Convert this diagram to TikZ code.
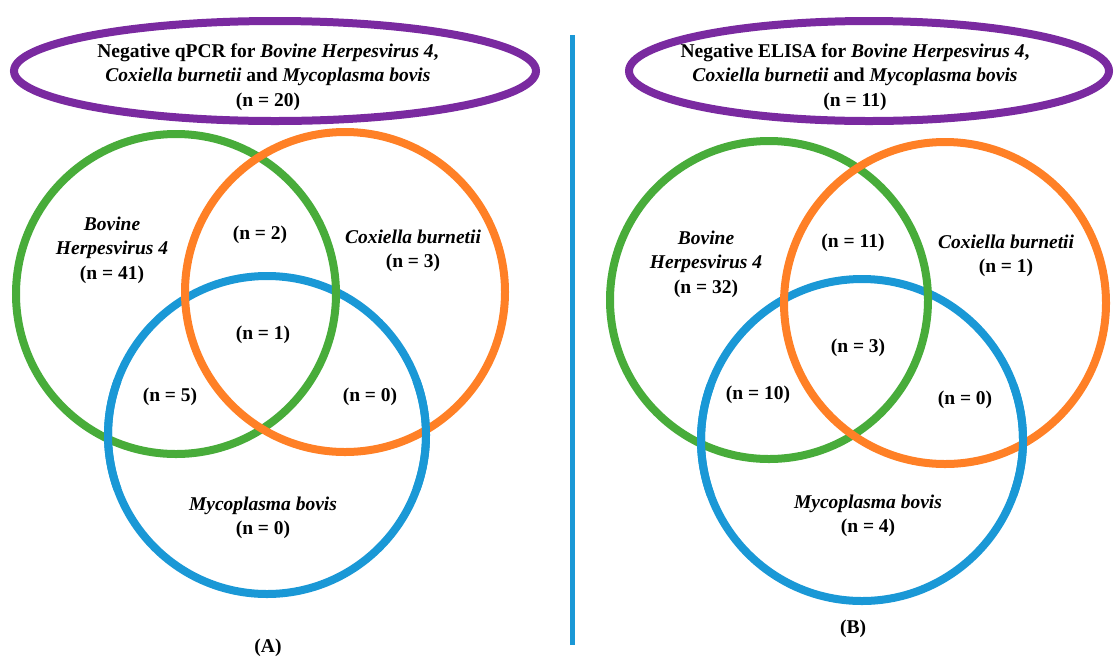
\documentclass[tikz,border=0pt]{standalone}
\usepackage{fontspec}
\setmainfont{Liberation Serif}
\usetikzlibrary{shapes.geometric}
\definecolor{vgreen}{RGB}{72,172,58}
\definecolor{vorange}{RGB}{255,128,38}
\definecolor{vblue}{RGB}{26,152,214}
\definecolor{vpurple}{RGB}{122,42,160}
\tikzset{
  ring/.style={circle, draw, line width=8pt, minimum size=#1, inner sep=0pt},
  oval/.style={ellipse, draw=vpurple, line width=8pt, inner sep=0pt},
  lbl/.style={font=\fontsize{19.5}{24.5}\selectfont\bfseries, align=center, inner sep=0pt},
  overarc/.style={vblue, line width=8pt},
}
\begin{document}
\begin{tikzpicture}[x=1pt,y=-1pt]
\useasboundingbox (0,0) rectangle (1115,657);
% ---------- Panel A ----------
\node[oval, minimum width=522pt, minimum height=100pt] (ovA) at (275,71) {};
\node[ring=318pt, draw=vblue] (bA) at (267,435) {};
\node[ring=320pt, draw=vgreen] (gA) at (176,294) {};
\node[ring=320pt, draw=vorange] (oA) at (345,292) {};
\draw[overarc] ([shift={(160:159pt)}]bA.center) arc[start angle=160, end angle=200, radius=159pt];
\draw[overarc] ([shift={(-20:159pt)}]bA.center) arc[start angle=-20, end angle=20, radius=159pt];
\node[lbl] (tA) at (268,77) {Negative qPCR for \textit{Bovine Herpesvirus 4},\\\textit{Coxiella burnetii} and \textit{Mycoplasma bovis}\\(n = 20)};
\node[lbl] (gAl) at (112,250) {\textit{Bovine}\\\textit{Herpesvirus 4}\\(n = 41)};
\node[lbl] (goA) at (260,235) {(n = 2)};
\node[lbl] (oAl) at (413,251) {\textit{Coxiella burnetii}\\(n = 3)};
\node[lbl] (allA) at (263,335) {(n = 1)};
\node[lbl] (gbA) at (170,397) {(n = 5)};
\node[lbl] (obA) at (370,397) {(n = 0)};
\node[lbl] (bAl) at (263,518) {\textit{Mycoplasma bovis}\\(n = 0)};
\node[lbl] (capA) at (268,648) {(A)};
% ---------- divider ----------
\coordinate (d1) at (572,35);
\coordinate (d2) at (572,645);
\draw[vblue, line width=5pt] (d1) -- (d2);
% ---------- Panel B ----------
\node[oval, minimum width=480pt, minimum height=100pt] (ovB) at (869,71) {};
\node[ring=322pt, draw=vblue] (bB) at (862,440) {};
\node[ring=318pt, draw=vgreen] (gB) at (769,300) {};
\node[ring=322pt, draw=vorange] (oB) at (945,303) {};
\draw[overarc] ([shift={(160:161pt)}]bB.center) arc[start angle=160, end angle=200, radius=161pt];
\draw[overarc] ([shift={(-20:161pt)}]bB.center) arc[start angle=-20, end angle=20, radius=161pt];
\node[lbl] (tB) at (855,77) {Negative ELISA for \textit{Bovine Herpesvirus 4},\\\textit{Coxiella burnetii} and \textit{Mycoplasma bovis}\\(n = 11)};
\node[lbl] (gBl) at (706,264) {\textit{Bovine}\\\textit{Herpesvirus 4}\\(n = 32)};
\node[lbl] (goB) at (853,243) {(n = 11)};
\node[lbl] (oBl) at (1006,256) {\textit{Coxiella burnetii}\\(n = 1)};
\node[lbl] (allB) at (858,348) {(n = 3)};
\node[lbl] (gbB) at (758,395) {(n = 10)};
\node[lbl] (obB) at (965,400) {(n = 0)};
\node[lbl] (bBl) at (868,516) {\textit{Mycoplasma bovis}\\(n = 4)};
\node[lbl] (capB) at (853,629) {(B)};
\end{tikzpicture}
\end{document}
